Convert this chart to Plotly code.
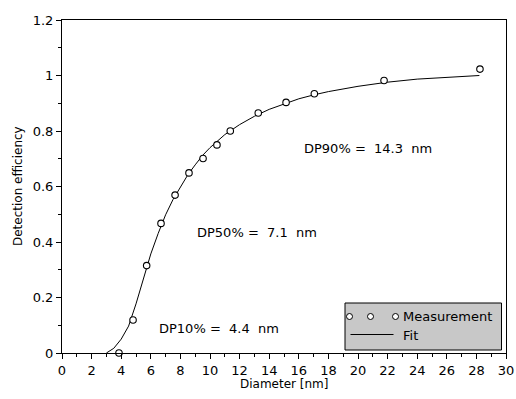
import plotly.graph_objects as go

meas_d = [3.85, 4.8, 5.72, 6.69, 7.64, 8.58, 9.53, 10.47, 11.37, 13.26, 15.14, 17.05, 21.76, 28.24]
meas_eff = [0.0, 0.119, 0.315, 0.467, 0.569, 0.649, 0.701, 0.75, 0.80, 0.865, 0.903, 0.934, 0.982, 1.023]

# Fit curve
fit_d = [3.0, 3.5, 4.0, 4.5, 5.0, 5.5, 6.0, 6.5, 7.0, 7.5, 8.0, 8.5, 9.0, 9.5, 10, 11, 12, 13,
         14, 15, 16, 17, 18, 20, 22, 24, 26, 28.2]
fit_eff = [0.0, 0.017, 0.05, 0.097, 0.177, 0.272, 0.357, 0.431, 0.498, 0.553, 0.600, 0.642, 0.678,
           0.712, 0.740, 0.787, 0.823, 0.853, 0.878, 0.898, 0.916, 0.930, 0.942, 0.961, 0.976,
           0.987, 0.994, 1.0]

x_ticks = list(range(0, 31, 2))
y_ticks = [0, 0.2, 0.4, 0.6, 0.8, 1.0, 1.2]
y_tick_labels = ["0", "0.2", "0.4", "0.6", "0.8", "1", "1.2"]

labels = [
    ("DP90%\u00a0=\u00a0\u00a014.3\u00a0\u00a0nm", 14.3),
    ("DP50%\u00a0=\u00a0\u00a07.1\u00a0\u00a0nm", 7.1),
    ("DP10%\u00a0=\u00a0\u00a04.4\u00a0\u00a0nm", 4.4),
]

FONT = "DejaVu Sans"

fig = go.Figure()
fig.add_trace(go.Scatter(x=fit_d, y=fit_eff, mode="lines",
                         line=dict(color="black", width=1), name="Fit", showlegend=False))
fig.add_trace(go.Scatter(x=meas_d, y=meas_eff, mode="markers",
                         marker=dict(symbol="circle", size=6.5, color="white",
                                     line=dict(color="black", width=1.1)),
                         name="Measurement", showlegend=False, cliponaxis=False))

L, R, T, B = 62, 10, 20, 46
W, H = 516, 399
PW, PH = W - L - R, H - T - B


def px(xp):
    return (xp - L) / PW


def py(yp):
    return (H - B - yp) / PH


# Text annotations (positions in paper space)
ann_pos = [(368, 148), (257, 232), (219, 328)]
for (txt, _), (ax_, ay_) in zip(labels, ann_pos):
    fig.add_annotation(x=px(ax_), y=py(ay_), xref="paper", yref="paper", text=txt,
                       xanchor="center", yanchor="middle",
                       showarrow=False, font=dict(family=FONT, size=13, color="black"))

# Axis titles
fig.add_annotation(x=px(284), y=py(384), xref="paper", yref="paper", text="Diameter [nm]",
                   xanchor="center", yanchor="middle", showarrow=False,
                   font=dict(family=FONT, size=12, color="black"))
fig.add_annotation(x=px(18), y=py(186), xref="paper", yref="paper", text="Detection efficiency",
                   xanchor="center", yanchor="middle", textangle=-90, showarrow=False,
                   font=dict(family=FONT, size=12, color="black"))

# Manual legend
shapes = [dict(type="rect", xref="paper", yref="paper", x0=px(345), x1=px(501.5),
               y0=py(350), y1=py(303), fillcolor="#c8c8c8", line=dict(color="black", width=1),
               layer="above")]
for cx in [349.5, 370.5, 395.5]:
    shapes.append(dict(type="circle", xref="paper", yref="paper", xsizemode="pixel",
                       ysizemode="pixel", xanchor=px(cx), yanchor=py(316.5),
                       x0=-3, x1=3, y0=-3, y1=3, fillcolor="white",
                       line=dict(color="black", width=1), layer="above"))
shapes.append(dict(type="line", xref="paper", yref="paper", x0=px(350.5), x1=px(393.5),
                   y0=py(334.5), y1=py(334.5), line=dict(color="black", width=1), layer="above"))
fig.update_layout(shapes=shapes)
fig.add_annotation(x=px(401), y=py(316), xref="paper", yref="paper", text="Measurement",
                   xanchor="left", yanchor="middle", showarrow=False,
                   font=dict(family=FONT, size=13, color="black"))
fig.add_annotation(x=px(401), y=py(335), xref="paper", yref="paper", text="Fit",
                   xanchor="left", yanchor="middle", showarrow=False,
                   font=dict(family=FONT, size=13, color="black"))

axis_common = dict(showline=True, linecolor="black", linewidth=1, mirror=True,
                   showgrid=False, zeroline=False, ticks="outside", ticklen=5,
                   tickcolor="black", tickwidth=1, automargin=False,
                   tickfont=dict(family=FONT, size=13, color="black"))

fig.update_xaxes(range=[0, 30], tickvals=x_ticks,
                 minor=dict(dtick=1, tick0=0, ticks="outside", ticklen=3, tickcolor="black"),
                 **axis_common)
fig.update_yaxes(range=[0, 1.2], tickvals=y_ticks, ticktext=y_tick_labels,
                 minor=dict(dtick=0.1, tick0=0, ticks="outside", ticklen=3, tickcolor="black"),
                 **axis_common)

fig.update_layout(width=W, height=H, margin=dict(l=L, r=R, t=T, b=B),
                  plot_bgcolor="white", paper_bgcolor="white",
                  font=dict(family=FONT, size=13, color="black"), showlegend=False)

fig.write_html("out.html", config={"displayModeBar": False, "responsive": False},
               post_script="document.body.style.margin='0';")
